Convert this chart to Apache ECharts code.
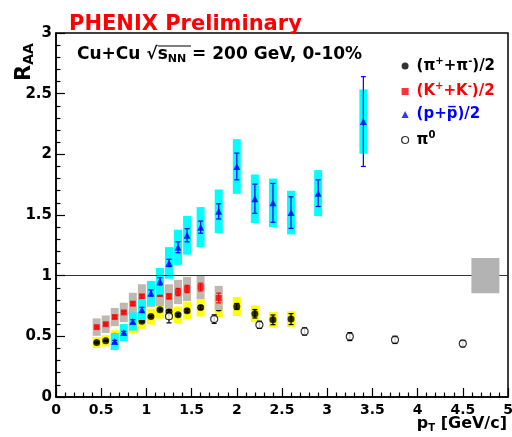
<!DOCTYPE html>
<html>
<head>
<meta charset="utf-8">
<script src="https://cdn.jsdelivr.net/npm/echarts@6/dist/echarts.min.js"></script>
<style>
  html, body { margin: 0; padding: 0; background: #fff; }
  #main { width: 512px; height: 437px; }
</style>
</head>
<body>
<div id="main"></div>
<script>
// (pi+ + pi-)/2
const pionPt   = [0.45, 0.55, 0.65, 0.75, 0.85, 0.95, 1.05, 1.15, 1.25, 1.35, 1.45, 1.6, 1.8, 2.0, 2.2, 2.4, 2.6];
const pionRaa  = [0.449, 0.463, 0.50, 0.53, 0.58, 0.624, 0.663, 0.719, 0.705, 0.678, 0.711, 0.738, 0.733, 0.746, 0.686, 0.636, 0.642];
const pionStat = [0.005, 0.005, 0.005, 0.006, 0.006, 0.007, 0.008, 0.009, 0.01, 0.01, 0.012, 0.015, 0.02, 0.025, 0.035, 0.04, 0.045];
const pionSys  = [0.045, 0.046, 0.05, 0.053, 0.058, 0.062, 0.066, 0.072, 0.07, 0.068, 0.071, 0.074, 0.073, 0.078, 0.069, 0.064, 0.064];

// (K+ + K-)/2
const kaonPt   = [0.45, 0.55, 0.65, 0.75, 0.85, 0.95, 1.05, 1.15, 1.25, 1.35, 1.45, 1.6, 1.8];
const kaonRaa  = [0.576, 0.60, 0.659, 0.697, 0.769, 0.829, 0.84, 0.85, 0.829, 0.865, 0.89, 0.906, 0.816];
const kaonStat = [0.008, 0.008, 0.01, 0.01, 0.012, 0.014, 0.016, 0.018, 0.02, 0.03, 0.03, 0.032, 0.04];
const kaonSys  = [0.072, 0.072, 0.075, 0.08, 0.09, 0.1, 0.1, 0.1, 0.1, 0.1, 0.1, 0.098, 0.1];

// (p + pbar)/2
const protPt   = [0.65, 0.75, 0.85, 0.95, 1.05, 1.15, 1.25, 1.35, 1.45, 1.6, 1.8, 2.0, 2.2, 2.4, 2.6, 2.9, 3.4];
const protRaa  = [0.457, 0.531, 0.622, 0.719, 0.857, 0.953, 1.105, 1.234, 1.333, 1.40, 1.53, 1.90, 1.634, 1.60, 1.52, 1.68, 2.27];
const protStat = [0.01, 0.01, 0.015, 0.02, 0.025, 0.03, 0.03, 0.045, 0.054, 0.05, 0.063, 0.11, 0.12, 0.16, 0.13, 0.11, 0.37];
const protSys  = [0.07, 0.07, 0.075, 0.085, 0.1, 0.11, 0.13, 0.145, 0.16, 0.165, 0.18, 0.225, 0.2, 0.2, 0.18, 0.19, 0.265];

// pi0
const pi0Pt   = [1.25, 1.75, 2.25, 2.75, 3.25, 3.75, 4.5];
const pi0Raa  = [0.665, 0.642, 0.595, 0.540, 0.498, 0.471, 0.44];
const pi0Stat = [0.054, 0.035, 0.03, 0.03, 0.033, 0.03, 0.027];

// overall normalisation uncertainty, drawn at the right edge
const normPt = [4.75];
const normRaa = [1.0];
const normUnc = [0.145];

const xTicks = { min: 0, max: 5, step: 0.5 };
const yTicks = { min: 0, max: 3, step: 0.5 };

const FONT = 'DejaVu Sans';

const legendLabels = {
  pion: '{t|(π}{sup|+}{t|+π}{sup|-}{t|)/2}',
  kaon: '{t|(K}{sup|+}{t|+K}{sup|-}{t|)/2}',
  proton: '{t|(p+p\u0305)/2}',
  pi0: '{t|π}{sup|0}'
};

function zip3(a, b, c) {
  return a.map((v, i) => [v, b[i], c[i]]);
}

// systematic box, half width in pixels
function boxItem(fill, halfW) {
  return function (params, api) {
    const x = api.value(0), y = api.value(1), s = api.value(2);
    const top = api.coord([x, y + s]);
    const bot = api.coord([x, y - s]);
    return {
      type: 'rect',
      shape: { x: top[0] - halfW, y: top[1], width: halfW * 2, height: bot[1] - top[1] },
      style: { fill: fill }
    };
  };
}

// statistical error bar with small caps
function errItem(color) {
  return function (params, api) {
    const x = api.value(0), y = api.value(1), e = api.value(2);
    const hi = api.coord([x, y + e]);
    const lo = api.coord([x, y - e]);
    const st = { stroke: color, lineWidth: 1.2 };
    return {
      type: 'group',
      children: [
        { type: 'line', shape: { x1: hi[0], y1: hi[1], x2: lo[0], y2: lo[1] }, style: st },
        { type: 'line', shape: { x1: hi[0] - 2.5, y1: hi[1], x2: hi[0] + 2.5, y2: hi[1] }, style: st },
        { type: 'line', shape: { x1: lo[0] - 2.5, y1: lo[1], x2: lo[0] + 2.5, y2: lo[1] }, style: st }
      ]
    };
  };
}

function customSeries(name, data, renderItem, z) {
  return {
    name: name,
    type: 'custom',
    data: data,
    encode: { x: 0, y: 1 },
    renderItem: renderItem,
    silent: true,
    z: z
  };
}

const myChart = echarts.init(document.getElementById('main'));

function makeAxis(t, labelSize, labelMargin) {
  return {
    type: 'value',
    min: t.min, max: t.max, interval: t.step,
    z: 10,
    axisLine: { show: true, onZero: false, lineStyle: { color: '#000', width: 1.5 } },
    axisTick: { show: true, inside: true, length: 9, lineStyle: { color: '#000', width: 1.2 } },
    minorTick: { show: true, splitNumber: 5, length: 4.5, lineStyle: { color: '#000', width: 1.2 } },
    splitLine: { show: false },
    minorSplitLine: { show: false },
    axisLabel: { show: true, color: '#000', fontFamily: FONT, fontWeight: 'bold', fontSize: labelSize, margin: labelMargin }
  };
}

const option = {
  animation: false,
  backgroundColor: '#fff',
  title: {
    text: 'PHENIX Preliminary',
    left: 69,
    top: 14,
    padding: 0,
    textStyle: { color: '#ff0000', fontFamily: FONT, fontWeight: 'bold', fontSize: 21 }
  },
  grid: {
    left: 56, right: 4, top: 33, bottom: 40,
    show: true, borderColor: '#000', borderWidth: 1.5,
    containLabel: false, outerBoundsMode: 'none'
  },
  xAxis: makeAxis(xTicks, 14, 6),
  yAxis: makeAxis(yTicks, 15, 4),
  legend: {
    orient: 'vertical',
    left: 396,
    top: 51,
    itemWidth: 7,
    itemHeight: 7,
    itemGap: 8,
    selectedMode: false,
    formatter: (name) => legendLabels[name],
    textStyle: {
      fontFamily: FONT, fontWeight: 'bold', fontSize: 15,
      padding: [0, 0, 0, 3],
      rich: {
        t: { fontFamily: FONT, fontWeight: 'bold', fontSize: 15, lineHeight: 20 },
        sup: { fontFamily: FONT, fontWeight: 'bold', fontSize: 10, lineHeight: 10, verticalAlign: 'top' }
      }
    },
    data: [
      { name: 'pion', icon: 'circle', itemStyle: { color: '#000' }, textStyle: { color: '#000' } },
      { name: 'kaon', icon: 'rect', itemStyle: { color: '#ff0000' }, textStyle: { color: '#ff0000' } },
      { name: 'proton', icon: 'triangle', itemStyle: { color: '#0000ff' }, textStyle: { color: '#0000ff' } },
      { name: 'pi0', icon: 'circle', itemStyle: { color: '#fff', borderColor: '#000', borderWidth: 1.2 }, textStyle: { color: '#000' } }
    ]
  },
  graphic: [
    {
      // R_AA axis title, reading bottom to top
      type: 'text',
      x: 14, y: 81,
      rotation: Math.PI / 2,
      style: {
        text: '{r|R}{s|AA}',
        fill: '#000',
        rich: {
          r: { fontFamily: FONT, fontWeight: 'bold', fontSize: 21, lineHeight: 22 },
          s: { fontFamily: FONT, fontWeight: 'bold', fontSize: 14, lineHeight: 14, verticalAlign: 'bottom' }
        }
      }
    },
    {
      // pT axis title
      type: 'text',
      right: 5, top: 416,
      style: {
        text: '{b|p}{s|T}{b| [GeV/c]}',
        fill: '#000',
        rich: {
          b: { fontFamily: FONT, fontWeight: 'bold', fontSize: 16, lineHeight: 18 },
          s: { fontFamily: FONT, fontWeight: 'bold', fontSize: 10, lineHeight: 10, verticalAlign: 'bottom' }
        }
      }
    },
    {
      type: 'text',
      left: 77, top: 46,
      style: {
        text: '{b|Cu+Cu }{b|√}{b|s}{s|NN}{b| = 200 GeV, 0-10%}',
        fill: '#000',
        rich: {
          b: { fontFamily: FONT, fontWeight: 'bold', fontSize: 17, lineHeight: 20 },
          s: { fontFamily: FONT, fontWeight: 'bold', fontSize: 11, lineHeight: 11, verticalAlign: 'bottom' }
        }
      }
    },
    {
      // radical bar over s_NN
      type: 'line',
      shape: { x1: 158, y1: 46, x2: 191, y2: 46 },
      style: { stroke: '#000', lineWidth: 1.2 }
    }
  ],
  series: [
    Object.assign(customSeries('pionSys', zip3(pionPt, pionRaa, pionSys), boxItem('#ffff00', 4), 2), {
      markLine: {
        silent: true,
        symbol: 'none',
        label: { show: false },
        lineStyle: { color: '#333', width: 1.2, type: 'solid' },
        data: [{ yAxis: 1 }]
      }
    }),
    customSeries('pionErr', zip3(pionPt, pionRaa, pionStat), errItem('#000'), 2),
    {
      name: 'pion', type: 'scatter', symbol: 'circle', symbolSize: 7, z: 2,
      itemStyle: { color: '#000' },
      data: pionPt.map((x, i) => [x, pionRaa[i]])
    },
    customSeries('kaonSys', zip3(kaonPt, kaonRaa, kaonSys), boxItem('#bfb8b0', 4), 3),
    customSeries('kaonErr', zip3(kaonPt, kaonRaa, kaonStat), errItem('#ff0000'), 3),
    {
      name: 'kaon', type: 'scatter', symbol: 'rect', symbolSize: 6, z: 3,
      itemStyle: { color: '#ff0000' },
      data: kaonPt.map((x, i) => [x, kaonRaa[i]])
    },
    customSeries('protSys', zip3(protPt, protRaa, protSys), boxItem('#00ffff', 4), 4),
    customSeries('protErr', zip3(protPt, protRaa, protStat), errItem('#0000ff'), 4),
    {
      name: 'proton', type: 'scatter', symbol: 'triangle', symbolSize: 7, z: 4,
      itemStyle: { color: '#0000ff' },
      data: protPt.map((x, i) => [x, protRaa[i]])
    },
    customSeries('pi0Err', zip3(pi0Pt, pi0Raa, pi0Stat), errItem('#000'), 5),
    {
      name: 'pi0', type: 'scatter', symbol: 'circle', symbolSize: 7, z: 5,
      itemStyle: { color: '#fff', borderColor: '#000', borderWidth: 1.2 },
      data: pi0Pt.map((x, i) => [x, pi0Raa[i]])
    },
    customSeries('norm', zip3(normPt, normRaa, normUnc), boxItem('#b3b3b3', 14), 5)
  ]
};

myChart.setOption(option);
</script>
</body>
</html>
